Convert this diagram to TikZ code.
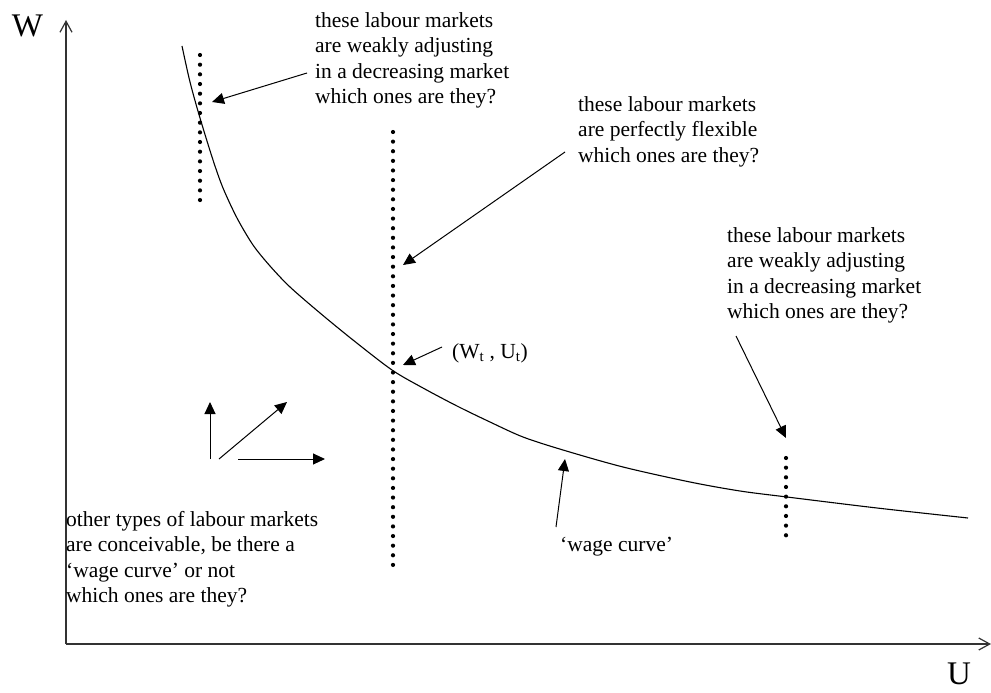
\documentclass[tikz,border=0pt]{standalone}
\usepackage{fontspec}
\setmainfont{Liberation Serif}
\usetikzlibrary{arrows.meta}
\begin{document}
\begin{tikzpicture}[x=1pt,y=-1pt,
  txt/.style={anchor=north west, inner sep=0pt, align=left, font=\fontsize{21.5}{25.5}\selectfont},
  big/.style={inner sep=0pt, font=\fontsize{33}{36}\selectfont},
  arr/.style={line width=1pt, -{Triangle[length=12pt,width=11pt]}},
  axisline/.style={line width=1.2pt, black!80, -{Straight Barb[length=11pt,width=12pt]}},
  curveline/.style={line width=1.1pt},
]
\useasboundingbox (0,0) rectangle (991,693);

% axes
\coordinate (O) at (66,644);
\coordinate (Wtop) at (66,20);
\coordinate (Uend) at (991,644);
\draw[axisline] (O) -- (Wtop);
\draw[axisline] (O) -- (Uend);
\node[big] (W) at (27.5,26) {W};
\node[big] (U) at (959,674) {U};

% wage curve
\draw[curveline] plot[smooth, tension=0.5] coordinates {(182,46) (190,82) (200,118) (213,160) (223,188) (237,218) (253,245) (270,266) (290,287) (320,313) (353,340) (392,370) (423,388) (457,406) (490,422) (523,437) (563,450) (623,467) (690,482) (740,491) (787,497) (877,508) (968,518)};

% dotted lines
\foreach \i in {0,...,15} \fill (200,55+\i*9.67) circle (2.1pt);
\foreach \i in {0,...,45} \fill (393,132+\i*9.62) circle (2.1pt);
\foreach \i in {0,...,8} \fill (786,458+\i*9.66) circle (2.1pt);

% texts
\node[txt] (t1) at (315,12) {these labour markets\\are weakly adjusting\\in a decreasing market\\which ones are they?};
\node[txt] (t2) at (578,96) {these labour markets\\are perfectly flexible\\which ones are they?};
\node[txt] (t3) at (727,227) {these labour markets\\are weakly adjusting\\in a decreasing market\\which ones are they?};
\node[txt, anchor=base west] (t4) at (452,358) {(W\textsubscript{t} , U\textsubscript{t})};
\node[txt] (t5) at (66,511) {other types of labour markets\\are conceivable, be there a\\`wage curve' or not\\which ones are they?};
\node[txt, anchor=base west] (t6) at (560,551) {`wage curve'};

% arrows
\coordinate (a1s) at (307,73);  \coordinate (a1e) at (212,102);
\coordinate (a2s) at (565,152); \coordinate (a2e) at (403,265);
\coordinate (a3s) at (442,347); \coordinate (a3e) at (403,365);
\coordinate (a4s) at (736,336); \coordinate (a4e) at (786,438);
\coordinate (a5s) at (556,527); \coordinate (a5e) at (565,459);
\coordinate (b1s) at (210,459); \coordinate (b1e) at (210,402);
\coordinate (b2s) at (219,459); \coordinate (b2e) at (287,402);
\coordinate (b3s) at (238,459); \coordinate (b3e) at (325,459);
\draw[arr] (a1s) -- (a1e);
\draw[arr] (a2s) -- (a2e);
\draw[arr] (a3s) -- (a3e);
\draw[arr] (a4s) -- (a4e);
\draw[arr] (a5s) -- (a5e);
\draw[arr] (b1s) -- (b1e);
\draw[arr] (b2s) -- (b2e);
\draw[arr] (b3s) -- (b3e);
\end{tikzpicture}
\end{document}
